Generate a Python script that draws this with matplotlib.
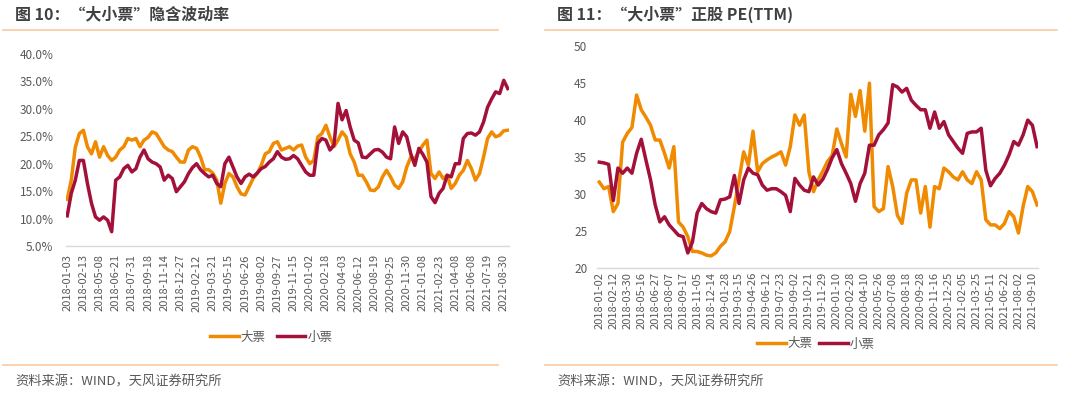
import matplotlib
matplotlib.use("Agg")
import matplotlib.pyplot as plt
from matplotlib.lines import Line2D

plt.rcParams["font.family"] = ["Noto Sans CJK SC", "DejaVu Sans"]

ORANGE = "#F08A00"
RED = "#A3103A"
TEXT = "#595959"
RULE = "#F9C9A0"

# 图10 隐含波动率 (%)
VOL_DATES = ["2018-01-03", "2018-02-13", "2018-05-08", "2018-06-21", "2018-07-31",
             "2018-09-18", "2018-11-14", "2018-12-27", "2019-02-12", "2019-03-21",
             "2019-05-15", "2019-06-26", "2019-08-02", "2019-09-27", "2019-11-15",
             "2020-01-02", "2020-02-18", "2020-04-03", "2020-06-12", "2020-08-19",
             "2020-09-25", "2020-11-30", "2021-01-08", "2021-02-23", "2021-04-08",
             "2021-06-08", "2021-07-19", "2021-08-30"]
vol_big = [13.5, 17.0, 23.0, 25.5, 26.1, 23.1, 21.8, 24.0, 21.2, 23.1,
           21.5, 20.6, 21.2, 22.5, 23.1, 24.6, 24.3, 24.6, 23.1, 24.3,
           24.8, 25.8, 25.5, 24.3, 23.1, 22.5, 22.2, 21.2, 20.3, 20.3,
           22.5, 23.1, 22.8, 21.2, 18.9, 18.9, 18.3, 17.0, 12.8, 16.4,
           18.2, 17.6, 15.8, 14.5, 14.3, 15.8, 17.3, 18.2, 19.7, 21.8,
           22.2, 23.7, 24.0, 22.5, 22.8, 23.1, 22.5, 23.2, 23.4, 21.2,
           20.0, 20.6, 24.9, 25.5, 27.0, 24.9, 23.1, 24.3, 25.8, 24.9,
           21.8, 20.3, 17.9, 17.9, 16.7, 15.2, 15.1, 15.8, 17.6, 18.8,
           17.6, 16.1, 15.5, 16.7, 19.4, 21.2, 20.9, 22.2, 23.4, 24.3,
           18.2, 17.3, 18.5, 17.3, 17.9, 15.5, 16.4, 17.9, 18.8, 20.6,
           19.1, 17.0, 18.2, 21.2, 24.6, 25.8, 24.9, 25.2, 26.0, 26.1]
vol_small = [10.5, 14.6, 17.0, 20.6, 20.6, 16.4, 12.8, 10.3, 9.7, 10.3,
             9.7, 7.6, 17.0, 17.6, 19.1, 19.7, 18.5, 19.1, 21.2, 22.5,
             20.9, 20.3, 20.0, 19.4, 17.0, 17.9, 17.3, 14.9, 15.8, 16.7,
             18.2, 19.3, 20.0, 18.9, 18.2, 17.6, 17.9, 16.4, 15.8, 20.0,
             21.2, 19.4, 17.6, 16.4, 17.6, 18.1, 17.6, 18.3, 19.1, 19.5,
             20.3, 20.9, 22.2, 21.2, 20.8, 20.9, 21.5, 20.9, 19.7, 18.5,
             17.9, 17.9, 23.7, 24.6, 24.3, 22.5, 23.4, 31.0, 28.0, 29.7,
             26.7, 24.3, 23.8, 21.2, 21.1, 21.8, 22.5, 22.6, 22.1, 21.2,
             20.9, 26.7, 23.7, 25.8, 24.9, 21.8, 19.7, 22.8, 21.7, 20.3,
             14.0, 12.9, 14.6, 15.5, 17.9, 17.6, 20.0, 20.0, 24.6, 25.5,
             25.6, 25.2, 25.8, 27.6, 30.3, 31.8, 33.1, 32.8, 35.2, 33.7]

# 图11 正股 PE(TTM)
PE_DATES = ["2018-01-02", "2018-02-12", "2018-03-30", "2018-05-16", "2018-06-27",
            "2018-08-07", "2018-09-17", "2018-11-05", "2018-12-14", "2019-01-28",
            "2019-03-15", "2019-04-26", "2019-06-12", "2019-07-23", "2019-09-02",
            "2019-10-21", "2019-11-29", "2020-01-10", "2020-02-28", "2020-04-10",
            "2020-05-26", "2020-07-08", "2020-08-18", "2020-09-28", "2020-11-16",
            "2020-12-25", "2021-02-05", "2021-03-25", "2021-05-11", "2021-06-22",
            "2021-08-02", "2021-09-10"]
pe_big = [31.6, 30.7, 31.0, 27.6, 28.7, 37.0, 38.2, 39.0, 43.4, 41.4,
          40.4, 39.3, 37.3, 37.3, 35.5, 33.5, 36.4, 26.2, 25.5, 24.2,
          22.2, 22.2, 22.0, 21.7, 21.6, 22.0, 22.9, 23.5, 24.9, 28.3,
          31.9, 35.7, 33.9, 38.5, 33.0, 34.1, 34.6, 35.0, 35.3, 35.7,
          33.9, 36.4, 40.7, 39.3, 40.7, 33.0, 30.3, 31.9, 33.1, 34.4,
          35.2, 38.8, 36.8, 35.0, 43.5, 40.5, 44.0, 38.5, 45.0, 28.3,
          27.6, 28.0, 33.7, 31.0, 27.1, 26.0, 30.1, 31.9, 31.9, 27.4,
          31.0, 25.5, 31.0, 30.7, 33.5, 33.0, 32.3, 31.9, 33.0, 31.9,
          31.4, 33.0, 31.9, 26.5, 25.8, 25.8, 25.3, 26.0, 27.6, 26.9,
          24.7, 28.3, 31.0, 30.3, 28.5]
pe_small = [34.3, 34.2, 34.0, 29.1, 33.5, 32.8, 33.5, 32.8, 35.5, 37.4,
            34.6, 31.9, 28.5, 26.2, 26.9, 25.8, 25.1, 24.4, 24.2, 22.0,
            23.5, 27.4, 28.7, 28.0, 27.6, 27.4, 29.2, 29.3, 29.6, 32.5,
            28.7, 31.9, 33.5, 32.8, 32.6, 31.2, 30.5, 30.7, 30.7, 30.3,
            29.8, 27.6, 32.1, 31.2, 30.5, 30.3, 32.3, 31.2, 32.0, 33.3,
            34.9, 36.0, 34.1, 32.8, 31.4, 29.0, 31.4, 32.8, 36.6, 36.6,
            38.0, 38.7, 39.6, 44.8, 44.5, 43.8, 44.3, 42.7, 42.0, 41.4,
            41.4, 38.9, 41.1, 38.9, 39.8, 38.0, 37.1, 36.2, 35.5, 38.2,
            38.4, 38.4, 38.9, 33.2, 31.1, 32.1, 32.8, 33.9, 35.3, 37.1,
            36.6, 38.0, 40.0, 39.3, 36.4]

W, H = 1080, 396


def fx(px):
    return px / W


def fy(py):
    return 1 - py / H


def panel(fig, x0, x1, title, source):
    fig.text(fx(x0 + 12), fy(14), title, fontsize=11.5, fontweight="bold",
             color="#404040", va="center", ha="left")
    fig.add_artist(Line2D([fx(x0), fx(x1)], [fy(30), fy(30)], color=RULE, lw=1.2))
    fig.add_artist(Line2D([fx(x0), fx(x1)], [fy(365), fy(365)], color=RULE, lw=1.2))
    fig.text(fx(x0 + 12), fy(382), source, fontsize=9.5, color=TEXT,
             va="center", ha="left")


def style_axes(ax, dates, step, ticks, fmt, pad):
    for side in ("top", "right", "left"):
        ax.spines[side].set_visible(False)
    ax.spines["bottom"].set_color("#D9D9D9")
    ax.spines["bottom"].set_linewidth(1.0)
    ax.set_xticks(range(0, step * len(dates), step))
    ax.set_xticklabels(dates, rotation=90, fontsize=8, color=TEXT)
    ax.set_yticks(ticks)
    ax.set_yticklabels([fmt % t for t in ticks], fontsize=8.5, color=TEXT)
    ax.tick_params(length=0)
    ax.tick_params(axis="x", pad=6)
    ax.tick_params(axis="y", pad=pad)


def run():
    fig = plt.figure(figsize=(W / 100, H / 100), dpi=100)

    panel(fig, 3, 498, "图 10：“大小票”隐含波动率", "资料来源：WIND，天风证券研究所")
    panel(fig, 545, 1057, "图 11：“大小票”正股 PE(TTM)", "资料来源：WIND，天风证券研究所")

    # left chart
    ax1 = fig.add_axes([fx(66), fy(246), fx(509 - 66), (246 - 54) / H])
    ax1.plot(range(len(vol_big)), vol_big, color=ORANGE, lw=2.5, label="大票")
    ax1.plot(range(len(vol_small)), vol_small, color=RED, lw=2.5, label="小票")
    ax1.set_ylim(5, 40)
    ax1.set_xlim(-0.3, 109.3)
    style_axes(ax1, VOL_DATES, 4, [5, 10, 15, 20, 25, 30, 35, 40], "%.1f%%", 9)
    ax1.legend(loc="center", bbox_to_anchor=(fx(271), fy(337)),
               bbox_transform=fig.transFigure, ncol=2, frameon=False,
               handlelength=2.3, handletextpad=0.15, columnspacing=0.9,
               fontsize=9, labelcolor=TEXT)

    # right chart
    ax2 = fig.add_axes([fx(597), fy(267.7), fx(1038 - 597), (267.7 - 46.3) / H])
    ax2.plot(range(len(pe_big)), pe_big, color=ORANGE, lw=2.5, label="大票")
    ax2.plot(range(len(pe_small)), pe_small, color=RED, lw=2.5, label="小票")
    ax2.set_ylim(20, 50)
    ax2.set_xlim(-0.5, 94.2)
    style_axes(ax2, PE_DATES, 3, [20, 25, 30, 35, 40, 45, 50], "%d", 7)
    ax2.tick_params(axis="x", pad=3)
    ax2.legend(loc="center", bbox_to_anchor=(fx(816), fy(344)),
               bbox_transform=fig.transFigure, ncol=2, frameon=False,
               handlelength=2.3, handletextpad=0.15, columnspacing=0.5,
               fontsize=9, labelcolor=TEXT)

    fig.savefig("out.png", dpi=100)
    plt.close(fig)


if __name__ == "__main__":
    run()
